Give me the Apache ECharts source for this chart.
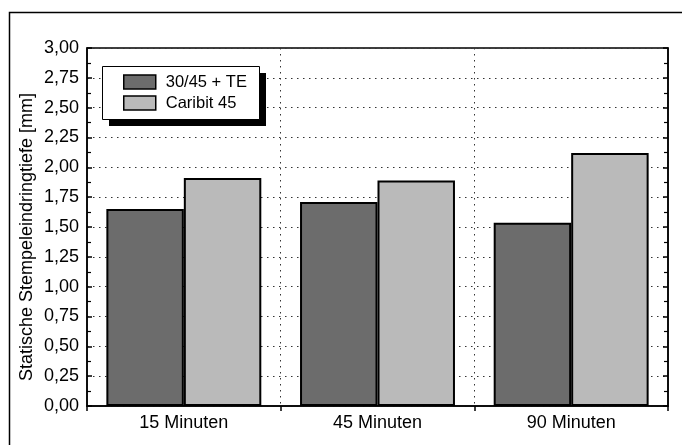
<!DOCTYPE html>
<html>
<head>
<meta charset="utf-8">
<script src="https://cdn.jsdelivr.net/npm/echarts@6/dist/echarts.min.js"></script>
<style>
html,body{margin:0;padding:0;background:#fff;}
#chart{width:682px;height:445px;}
</style>
</head>
<body>
<div id="chart"></div>
<script>
const categories = ['15 Minuten', '45 Minuten', '90 Minuten'];
const seriesNames = ['30/45 + TE', 'Caribit 45'];
const valuesTE = [1.65, 1.71, 1.535];
const valuesCaribit = [1.91, 1.89, 2.12];
const yAxisTitle = 'Statische Stempeleindringtiefe [mm]';

const FONT = 'Liberation Sans, Arial, sans-serif';
const FS = 18;
const chart = echarts.init(document.getElementById('chart'), null, {renderer: 'canvas'});

const fmt = v => v.toFixed(2).replace('.', ',');

const axisLine = {show: true, lineStyle: {color: '#000', width: 1.5}};

chart.setOption({
  animation: false,
  backgroundColor: '#fff',
  textStyle: {fontFamily: FONT},
  graphic: [{
    type: 'rect', z: 0,
    shape: {x: 9.5, y: 12.5, width: 700, height: 500},
    style: {fill: 'none', stroke: '#000', lineWidth: 1.5}
  }, {
    type: 'rect', z: 10,
    shape: {x: 109, y: 73, width: 157, height: 53},
    style: {fill: '#000'}
  }, {
    type: 'rect', z: 11,
    shape: {x: 102.5, y: 66.5, width: 157, height: 53},
    style: {fill: '#fff', stroke: '#000', lineWidth: 1}
  }, {
    type: 'text', z: 11,
    x: 27, y: 237, rotation: Math.PI / 2,
    style: {text: yAxisTitle, font: FS + 'px ' + FONT, fill: '#000', align: 'center', verticalAlign: 'middle'}
  }],
  grid: {left: 87, right: 14, top: 48, bottom: 39, show: true, borderColor: '#000', borderWidth: 1.5, backgroundColor: 'transparent'},
  legend: {
    z: 20,
    left: 123, top: 73,
    orient: 'vertical',
    padding: 0,
    itemGap: 3,
    itemWidth: 32, itemHeight: 14,
    icon: 'rect',
    textStyle: {fontSize: 16.5, lineHeight: 18, color: '#000', fontFamily: FONT, padding: [0, 0, 0, 5]},
    itemStyle: {borderColor: '#000', borderWidth: 1.5},
    data: seriesNames
  },
  xAxis: [{
    type: 'category',
    data: categories,
    boundaryGap: true,
    axisLine: axisLine,
    axisTick: {show: true, inside: false, length: 5, lineStyle: {color: '#000', width: 1.5}},
    axisLabel: {fontSize: FS, color: '#000', fontFamily: FONT, margin: 8},
    splitLine: {show: true, lineStyle: {color: '#333', type: [1.5, 4.5], width: 1}}
  }],
  yAxis: [{
    type: 'value',
    min: 0, max: 3, interval: 0.25,
    axisLine: axisLine,
    axisTick: {show: true, inside: true, length: 5, lineStyle: {color: '#000', width: 1.5}},
    minorTick: {show: true, splitNumber: 2, length: 4, lineStyle: {color: '#000', width: 1.2}},
    axisLabel: {fontSize: FS, color: '#000', fontFamily: FONT, margin: 8, formatter: fmt},
    splitLine: {show: true, lineStyle: {color: '#333', type: [1.5, 4.5], width: 1}}
  }, {
    type: 'value',
    position: 'right',
    min: 0, max: 3, interval: 0.25,
    axisLine: axisLine,
    axisTick: {show: true, inside: true, length: 5, lineStyle: {color: '#000', width: 1.5}},
    minorTick: {show: true, splitNumber: 2, length: 4, lineStyle: {color: '#000', width: 1.2}},
    axisLabel: {show: false},
    splitLine: {show: false}
  }],
  series: [{
    name: seriesNames[0],
    type: 'bar',
    data: valuesTE,
    barGap: '0%',
    barCategoryGap: '20%',
    itemStyle: {color: '#6c6c6c', borderColor: '#000', borderWidth: 2}
  }, {
    name: seriesNames[1],
    type: 'bar',
    data: valuesCaribit,
    barGap: '0%',
    barCategoryGap: '20%',
    itemStyle: {color: '#bababa', borderColor: '#000', borderWidth: 2}
  }]
});
</script>
</body>
</html>
